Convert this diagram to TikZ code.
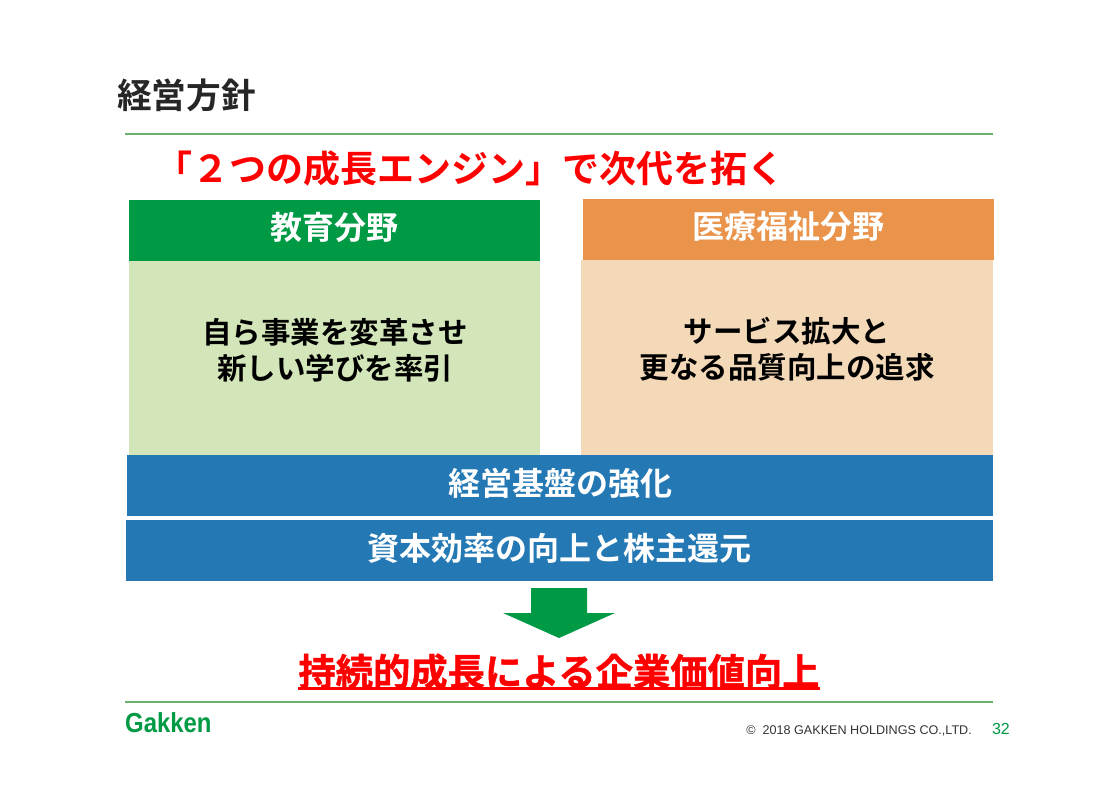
\documentclass[tikz,border=0pt]{standalone}
\usepackage{fontspec}
\setmainfont{Liberation Sans}
\newfontfamily\jpfont{Noto Sans CJK JP Bold}
\newfontfamily\jpheavy[FakeBold=1.2]{Noto Sans CJK JP Bold}
\usetikzlibrary{positioning}
\definecolor{gkgreen}{HTML}{009A44}
\definecolor{gkline}{HTML}{6BAF6B}
\definecolor{gklight}{HTML}{D3E6B9}
\definecolor{gkorange}{HTML}{E9934B}
\definecolor{gkpeach}{HTML}{F3D9B8}
\definecolor{gkblue}{HTML}{2479B5}
\newcommand{\jpsize}[1]{\fontsize{#1}{#1}\selectfont\jpfont}
\tikzset{
  box/.style={inner sep=0, outer sep=0, anchor=north west, align=center, text=white},
  headbox/.style={box, minimum width=411pt, minimum height=61pt, text height=27pt, text depth=8pt, font=\jpsize{32}},
  barbox/.style={box, fill=gkblue, minimum height=61pt, text height=28.5pt, text depth=8pt, font=\jpsize{32}},
  txt/.style={inner sep=0, align=center},
  rule/.style={draw=gkline},
}

\begin{document}
\begin{tikzpicture}[x=1pt, y=-1pt]
    \useasboundingbox[fill=white] (0,0) rectangle (1117,791);

    \node[txt, anchor=west, text=black!85, font=\jpsize{34.7}] (title) at (117, 95) {経営方針};
    \draw[rule, line width=2pt] (125, 134) -- (993, 134);
    \node[txt, text=red, font=\jpsize{37}] (head) at (469.5, 168.5) {「２つの成長エンジン」で次代を拓く};

    % two fields
    \node[headbox, fill=gkgreen] (edu) at (129, 200) {教育分野};
    \node[box, fill=gklight, minimum width=411pt, minimum height=194pt] (edubody) at (129, 261) {};
    \node[headbox, fill=gkorange] (med) at (583, 199) {医療福祉分野};
    \node[box, fill=gkpeach, minimum width=412pt, minimum height=195pt] (medbody) at (581, 260) {};
    \node[txt, font=\jpsize{29.5}] (edutxt) at (335, 350) {自ら事業を変革させ\\[6.5pt]新しい学びを率引};
    \node[txt, font=\jpsize{29.5}] (medtxt) at (787, 349) {サービス拡大と\\[6.5pt]更なる品質向上の追求};

    % base bars
    \node[barbox, minimum width=866pt] (base) at (127, 455) {経営基盤の強化};
    \node[barbox, minimum width=867pt] (capital) at (126, 520) {資本効率の向上と株主還元};

    \fill[gkgreen] (531, 588) -- (587, 588) -- (587, 613) -- (615, 613) -- (559, 638) -- (503, 613) -- (531, 613) -- cycle;

    \node[txt, text=red, font=\fontsize{37.3}{37.3}\selectfont\jpheavy] (goal) at (559, 671.5) {持続的成長による企業価値向上};
    \draw[red, line width=3pt] (298, 688) -- (820, 688);

    \draw[rule, line width=1.2pt] (125, 702) -- (993, 702);
    \node[txt, anchor=west, text=gkgreen, xscale=.87, font=\fontsize{27.5}{27.5}\selectfont\bfseries] (logo) at (125, 723) {Gakken};
    \node[txt, anchor=east, text=black!80, font=\fontsize{12.6}{12.6}\selectfont] (copy) at (972, 730.5) {©\ \ 2018 GAKKEN HOLDINGS CO.,LTD.};
    \node[txt, anchor=east, text=gkgreen, font=\fontsize{16}{16}\selectfont] (page) at (1010, 729) {32};
\end{tikzpicture}
\end{document}
